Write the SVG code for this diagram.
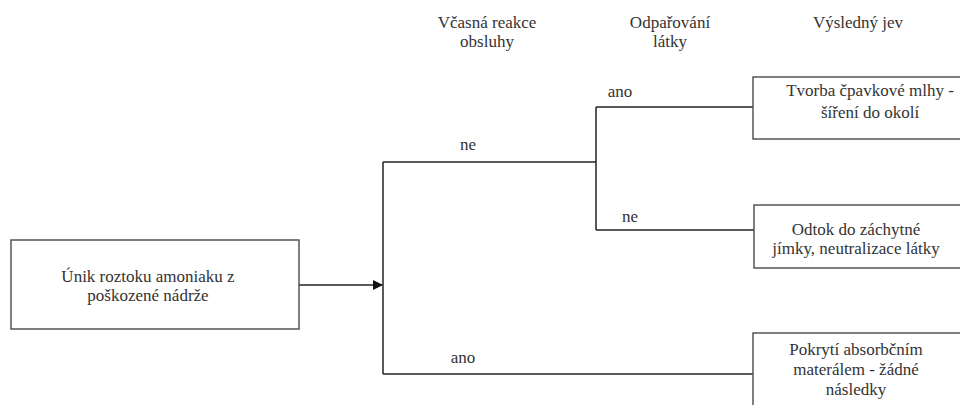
<svg xmlns="http://www.w3.org/2000/svg" width="960" height="405" viewBox="0 0 960 405">
<style>
text{font-family:"Liberation Serif","DejaVu Serif","Noto Serif",serif;font-size:17px;fill:#333;text-anchor:middle}
.box{fill:#fff;stroke:#555;stroke-width:1.5}
.ln{fill:none;stroke:#222;stroke-width:1.5}
</style>
<defs>
<marker id="arr" markerWidth="10" markerHeight="10" refX="9" refY="5" orient="auto" markerUnits="userSpaceOnUse">
<path d="M0,0 L10,5 L0,10 Z" fill="#111"/>
</marker>
</defs>
<rect width="960" height="405" fill="#fff"/>
<g id="headers">
<text x="487" y="28">Včasná reakce</text>
<text x="487" y="47">obsluhy</text>
<text x="670" y="28">Odpařování</text>
<text x="670" y="47">látky</text>
<text x="858" y="28">Výsledný jev</text>
</g>
<g id="connectors">
<path class="ln" d="M299,285 H382" marker-end="url(#arr)"/>
<path class="ln" d="M383,162 V374"/>
<path class="ln" d="M383,162 H596"/>
<path class="ln" d="M596,107 V230"/>
<path class="ln" d="M596,107 H753"/>
<path class="ln" d="M596,230 H754"/>
<path class="ln" d="M383,374 H753"/>
<text x="468" y="150">ne</text>
<text x="463" y="363">ano</text>
<text x="620" y="97">ano</text>
<text x="630" y="222">ne</text>
</g>
<g id="start">
<rect class="box" x="11" y="240" width="288" height="89"/>
<text x="148" y="282">Únik roztoku amoniaku z</text>
<text x="148" y="301">poškozené nádrže</text>
</g>
<g id="out1">
<rect class="box" x="753" y="77" width="210" height="62"/>
<text x="870" y="96">Tvorba čpavkové mlhy -</text>
<text x="870" y="118">šíření do okolí</text>
</g>
<g id="out2">
<rect class="box" x="754" y="205" width="210" height="63"/>
<text x="856" y="235">Odtok do záchytné</text>
<text x="856" y="254">jímky, neutralizace látky</text>
</g>
<g id="out3">
<rect class="box" x="753" y="333" width="210" height="80"/>
<text x="856" y="355">Pokrytí absorbčním</text>
<text x="856" y="375">materálem - žádné</text>
<text x="856" y="395">následky</text>
</g>
</svg>
